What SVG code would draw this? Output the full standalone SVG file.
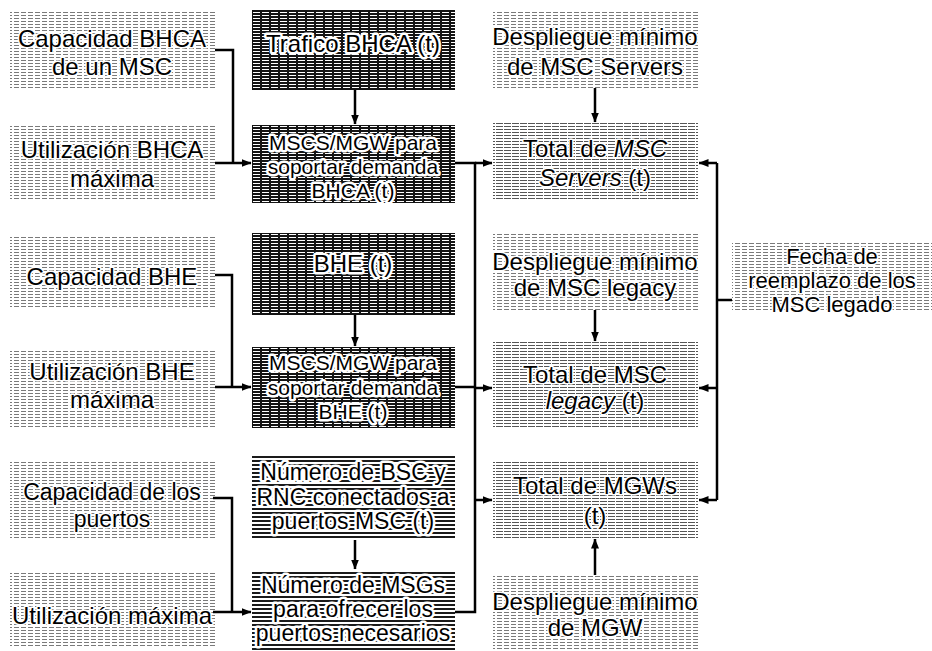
<svg xmlns="http://www.w3.org/2000/svg" width="932" height="651" viewBox="0 0 932 651">
  <defs>
    <!-- halftone fills for the boxes -->
    <pattern id="hLight" width="7" height="3" patternUnits="userSpaceOnUse">
      <rect width="7" height="3" fill="#ffffff"/>
      <rect width="5" height="1" fill="#7a7a7a"/>
    </pattern>
    <pattern id="hMid" width="8" height="3" patternUnits="userSpaceOnUse">
      <rect width="8" height="3" fill="#ffffff"/>
      <rect width="7" height="1" fill="#555555"/>
    </pattern>
    <pattern id="hNum" width="8" height="4" patternUnits="userSpaceOnUse">
      <rect width="8" height="4" fill="#ffffff"/>
      <rect width="8" height="2" fill="#1a1a1a"/>
    </pattern>
    <pattern id="hDark" width="9" height="3" patternUnits="userSpaceOnUse">
      <rect width="9" height="3" fill="#141414"/>
      <rect x="1" width="7" height="1" fill="#ffffff"/>
    </pattern>
    <marker id="arr" viewBox="0 0 10 8" refX="9.5" refY="4" markerWidth="10" markerHeight="8" markerUnits="userSpaceOnUse" orient="auto">
      <path d="M0,0 L10,4 L0,8 z" fill="#000"/>
    </marker>
  </defs>
  <style>
    .light { fill: url(#hLight); }
    .mid { fill: url(#hMid); }
    .num { fill: url(#hNum); }
    .dark { fill: url(#hDark); }
    text { font-family: "Liberation Sans", Arial, sans-serif; font-size: 24px; fill: #000; text-anchor: middle;
           stroke: #fff; stroke-width: 3px; paint-order: stroke; stroke-linejoin: round; }
    .halo { stroke-width: 5px; }
    .s21 { font-size: 21px; }
    .s22 { font-size: 22px; }
    .s23 { font-size: 23px; }
    .it { font-style: italic; }
    .wire { fill: none; stroke: #000; stroke-width: 2.5; }
    .arrow { fill: none; stroke: #000; stroke-width: 2.5; marker-end: url(#arr); }
  </style>

  <!-- left column: capacities and utilisation limits -->
  <g id="cap-bhca">
    <rect class="light" x="10" y="12" width="205" height="76"/>
    <text x="112" y="47">Capacidad BHCA</text>
    <text x="112" y="75">de un MSC</text>
  </g>
  <g id="util-bhca">
    <rect class="light" x="10" y="125" width="205" height="75"/>
    <text x="112" y="158">Utilización BHCA</text>
    <text x="112" y="187">máxima</text>
  </g>
  <g id="cap-bhe">
    <rect class="light" x="10" y="235" width="205" height="73"/>
    <text x="112" y="285">Capacidad BHE</text>
  </g>
  <g id="util-bhe">
    <rect class="light" x="10" y="350" width="205" height="78"/>
    <text x="112" y="380">Utilización BHE</text>
    <text x="112" y="408">máxima</text>
  </g>
  <g id="cap-puertos">
    <rect class="light" x="10" y="460" width="205" height="78"/>
    <text class="s23" x="112" y="500">Capacidad de los</text>
    <text class="s23" x="112" y="527">puertos</text>
  </g>
  <g id="util-max">
    <rect class="light" x="10" y="572" width="205" height="76"/>
    <text x="112" y="624">Utilización máxima</text>
  </g>

  <!-- middle column: demand and derived MSC counts -->
  <g id="trafico-bhca">
    <rect class="dark" x="252" y="10" width="203" height="80"/>
    <text class="halo" x="353" y="52">Trafico BHCA (t)</text>
  </g>
  <g id="msc-bhca">
    <rect class="dark" x="252" y="125" width="203" height="78"/>
    <text class="s21 halo" x="353" y="150">MSCS/MGW para</text>
    <text class="s21 halo" x="353" y="174">soportar demanda</text>
    <text class="s21 halo" x="353" y="198">BHCA (t)</text>
  </g>
  <g id="bhe">
    <rect class="dark" x="252" y="233" width="203" height="82"/>
    <text class="halo" x="353" y="272">BHE (t)</text>
  </g>
  <g id="msc-bhe">
    <rect class="dark" x="252" y="347" width="203" height="81"/>
    <text class="s21 halo" x="353" y="370">MSCS/MGW para</text>
    <text class="s21 halo" x="353" y="395">soportar demanda</text>
    <text class="s21 halo" x="353" y="419">BHE (t)</text>
  </g>
  <g id="bsc-rnc">
    <rect class="num" x="252" y="455" width="203" height="85"/>
    <text class="s23 halo" x="353" y="480">Número de BSC y</text>
    <text class="s23 halo" x="353" y="505">RNC conectados a</text>
    <text class="s23 halo" x="353" y="529">puertos MSC (t)</text>
  </g>
  <g id="msc-puertos">
    <rect class="num" x="252" y="570" width="203" height="81"/>
    <text class="s23 halo" x="353" y="593">Número de MSGs</text>
    <text class="s23 halo" x="353" y="617">para ofrecer los</text>
    <text class="s23 halo" x="353" y="641">puertos necesarios</text>
  </g>

  <!-- right column: minimum deployments and totals -->
  <g id="min-servers">
    <rect class="light" x="493" y="10" width="205" height="78"/>
    <text x="595" y="45">Despliegue mínimo</text>
    <text x="595" y="75">de MSC Servers</text>
  </g>
  <g id="total-servers">
    <rect class="mid" x="493" y="123" width="205" height="77"/>
    <text x="595" y="157">Total de <tspan class="it">MSC</tspan></text>
    <text x="595" y="186"><tspan class="it">Servers</tspan> (t)</text>
  </g>
  <g id="min-legacy">
    <rect class="light" x="493" y="233" width="205" height="77"/>
    <text x="595" y="270">Despliegue mínimo</text>
    <text x="595" y="296">de MSC legacy</text>
  </g>
  <g id="total-legacy">
    <rect class="mid" x="493" y="342" width="205" height="86"/>
    <text x="595" y="383">Total de MSC</text>
    <text x="595" y="409"><tspan class="it">legacy</tspan> (t)</text>
  </g>
  <g id="total-mgw">
    <rect class="mid" x="493" y="460" width="205" height="78"/>
    <text x="595" y="494">Total de MGWs</text>
    <text x="595" y="524">(t)</text>
  </g>
  <g id="min-mgw">
    <rect class="light" x="493" y="575" width="205" height="76"/>
    <text x="595" y="610">Despliegue mínimo</text>
    <text x="595" y="636">de MGW</text>
  </g>

  <!-- far right: replacement date -->
  <g id="fecha">
    <rect class="light" x="732" y="243" width="200" height="67"/>
    <text class="s22" x="832" y="264">Fecha de</text>
    <text class="s22" x="832" y="288">reemplazo de los</text>
    <text class="s22" x="832" y="312">MSC legado</text>
  </g>

  <!-- connectors -->
  <g id="connectors">
    <!-- BHCA inputs -->
    <path class="wire" d="M215 50 H233 V163"/>
    <path class="arrow" d="M215 163 H251"/>
    <path class="arrow" d="M355 90 V124"/>
    <!-- BHE inputs -->
    <path class="wire" d="M215 275 H232 V387"/>
    <path class="arrow" d="M215 387 H251"/>
    <path class="arrow" d="M355 315 V346"/>
    <!-- port inputs -->
    <path class="wire" d="M213 498 H232 V612"/>
    <path class="arrow" d="M213 612 H251"/>
    <path class="arrow" d="M355 540 V569"/>
    <!-- collector bus into totals -->
    <path class="wire" d="M455 163 H475 V612 H455"/>
    <path class="wire" d="M455 387 H475"/>
    <path class="arrow" d="M475 163 H492"/>
    <path class="arrow" d="M475 388 H492"/>
    <path class="arrow" d="M475 500 H492"/>
    <!-- minimum deployments -->
    <path class="arrow" d="M595 88 V122"/>
    <path class="arrow" d="M595 310 V341"/>
    <path class="arrow" d="M595 575 V539"/>
    <!-- replacement date bus -->
    <path class="wire" d="M717 163 V500"/>
    <path class="wire" d="M717 300 H732"/>
    <path class="arrow" d="M717 163 H699"/>
    <path class="arrow" d="M717 388 H699"/>
    <path class="arrow" d="M717 500 H699"/>
  </g>
</svg>
